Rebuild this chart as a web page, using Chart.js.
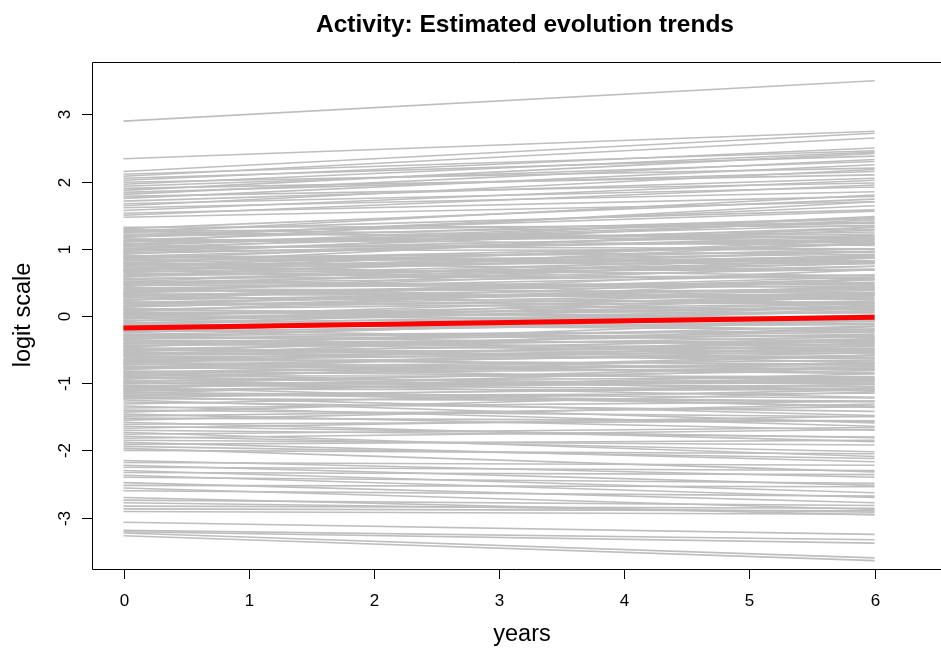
<!DOCTYPE html>
<html>
<head>
<meta charset="utf-8">
<script src="https://cdn.jsdelivr.net/npm/chart.js@4/dist/chart.umd.min.js"></script>
<style>
html,body{margin:0;padding:0;background:#fff;overflow:hidden;}
#wrap{width:941px;height:648px;position:relative;}
</style>
</head>
<body>
<div id="wrap"><canvas id="c" width="941" height="648"></canvas></div>
<script>
// ---- data ----
const title = "Activity: Estimated evolution trends";
const xLabel = "years";
const yLabel = "logit scale";
const xTicks = [0, 1, 2, 3, 4, 5, 6];
const yTicks = [-3, -2, -1, 0, 1, 2, 3];
const timeStart = 0;
const timeEnd = 6;

// estimated individual trends: value at year 0 and value at year 6
const startValues = [
  2.90, 2.34, 2.15, 2.11, 2.08, 2.05, 2.02, 1.99, 1.96, 1.93, 1.90, 1.87, 1.84, 1.81, 1.78, 1.75, 1.71, 1.67, 1.64, 1.61, 1.57, 1.53, 1.50, 1.47,
  1.32, 1.30, 1.29, 1.27, 1.25, 1.24, 1.22, 1.20, 1.18, 1.17, 1.15, 1.13, 1.11, 1.10, 1.08, 1.06, 1.04, 1.03, 1.01, 0.99,
  0.97, 0.96, 0.94, 0.92, 0.90, 0.89, 0.87, 0.85, 0.84, 0.82, 0.80, 0.78, 0.77, 0.75, 0.73, 0.71, 0.70, 0.68, 0.66, 0.65,
  0.63, 0.61, 0.59, 0.58, 0.56, 0.54, 0.52, 0.51, 0.49, 0.47, 0.46, 0.44, 0.42, 0.40, 0.39, 0.37, 0.35, 0.34, 0.32, 0.30,
  0.28, 0.27, 0.25, 0.23, 0.21, 0.20, 0.18, 0.16, 0.15, 0.13, 0.11, 0.09, 0.08, 0.06, 0.04, 0.03, 0.01, -0.01, -0.03, -0.04,
  -0.06, -0.08, -0.10, -0.11, -0.13, -0.15, -0.16, -0.18, -0.20, -0.22, -0.23, -0.25, -0.27, -0.28, -0.30, -0.32, -0.34, -0.35, -0.37, -0.39,
  -0.41, -0.42, -0.44, -0.46, -0.47, -0.49, -0.51, -0.53, -0.54, -0.56, -0.58, -0.59, -0.61, -0.63, -0.65, -0.66, -0.68, -0.70, -0.72, -0.73,
  -0.75, -0.77, -0.78, -0.80, -0.82, -0.84, -0.85, -0.87, -0.89, -0.90, -0.92, -0.94, -0.96, -0.97, -0.99, -1.01, -1.03, -1.04, -1.06, -1.08,
  -1.09, -1.11, -1.13, -1.15, -1.16, -1.18, -1.20, -1.22, -1.23, -1.25,
  -1.28, -1.31, -1.34, -1.37, -1.40, -1.43, -1.46, -1.49, -1.52, -1.55, -1.58, -1.61, -1.64, -1.67, -1.70, -1.73, -1.76, -1.79, -1.82, -1.85, -1.88, -1.91, -1.94, -1.97, -2.00,
  -2.15, -2.18, -2.22, -2.25, -2.30, -2.33, -2.37, -2.40, -2.48, -2.52, -2.56, -2.60, -2.70, -2.74, -2.78, -2.83, -2.87, -2.91,
  -3.07, -3.19, -3.21, -3.23, -3.27,
  // further lines inside the dense band
  1.12, 0.93, 0.74, 0.55, 0.36, 0.19, 0.02, -0.12, -0.29, -0.45, -0.60, -0.76, -0.91, -1.05, -1.19,
  1.05, 0.86, 0.67, 0.48, 0.29, 0.10, -0.07, -0.24, -0.40, -0.57, -0.71, -0.86, -1.00, -1.14, 0.31,
  1.26, 1.07, 0.88, 0.69, 0.50, 0.33, 0.14, -0.02, -0.19, -0.36, -0.52, -0.69, -0.83, -0.98, -1.12,
  0.98, 0.79, 0.60, 0.41, 0.24, 0.05, -0.14, -0.33, -0.50, -0.67
];
const endValues = [
  3.50, 2.75, 2.72, 2.46, 2.65, 2.38, 2.50, 2.20, 2.44, 2.30, 2.10, 2.42, 2.15, 2.33, 1.98, 2.25, 2.05, 1.92, 2.18, 1.85, 2.02, 1.78, 1.95, 1.70,
  1.34, 1.74, 1.15, 1.58, 1.39, 1.80, 1.18, 1.56, 1.38, 1.64, 1.05, 1.46, 1.18, 1.70, 1.25, 1.45, 1.00, 1.29, 1.10, 1.48,
  0.99, 1.32, 1.13, 1.43, 0.81, 1.18, 0.96, 1.28, 0.82, 1.07, 0.92, 1.32, 0.79, 1.07, 0.60, 1.09, 0.86, 1.13, 0.69, 0.90,
  0.56, 0.96, 0.78, 1.09, 0.60, 0.82, 0.42, 0.91, 0.61, 0.79, 0.44, 0.90, 0.49, 0.61, 0.24, 0.74, 0.50, 0.87, 0.31, 0.54,
  0.20, 0.55, 0.33, 0.69, 0.09, 0.42, 0.19, 0.55, 0.26, 0.44, -0.08, 0.34, 0.05, 0.54, 0.10, 0.19, -0.07, 0.33, -0.01, 0.18,
  -0.20, 0.31, -0.01, 0.16, -0.20, 0.30, -0.13, 0.01, -0.38, 0.08, -0.11, 0.15, -0.31, -0.06, -0.44, 0.01, -0.29, 0.12, -0.40, -0.24,
  -0.54, -0.15, -0.36, -0.06, -0.69, -0.31, -0.53, -0.19, -0.64, -0.34, -0.55, -0.16, -0.80, -0.48, -0.72, -0.37, -0.59, -0.34, -0.86, -0.55,
  -0.97, -0.51, -0.74, -0.40, -0.93, -0.71, -1.12, -0.58, -0.90, -0.69, -1.09, -0.58, -0.92, -0.81, -1.21, -0.75, -1.09, -0.94, -1.36, -0.77,
  -1.10, -0.94, -1.34, -0.86, -1.27, -1.07, -1.48, -1.02, -1.27, -1.59,
  -1.42, -1.10, -1.64, -1.27, -1.50, -1.13, -1.70, -1.35, -1.56, -1.31, -1.87, -1.56, -1.81, -1.49, -1.80, -2.09, -1.66, -2.02, -1.69, -1.92, -2.17, -1.85, -2.12, -2.32, -2.05,
  -2.40, -2.22, -2.52, -2.30, -2.63, -2.36, -2.70, -2.49, -2.78, -2.54, -2.88, -2.68, -2.96, -2.82, -2.92, -2.86, -2.90, -2.95,
  -3.25, -3.33, -3.38, -3.60, -3.64,
  1.22, 1.15, 0.88, 0.74, 0.45, 0.38, 0.12, 0.06, -0.22, -0.27, -0.62, -0.66, -1.02, -0.98, -1.15,
  1.40, 0.95, 0.96, 0.47, 0.58, 0.22, 0.14, -0.08, -0.48, -0.45, -0.84, -0.78, -1.00, -1.22, 0.40,
  1.10, 1.35, 0.80, 1.00, 0.70, 0.28, 0.35, 0.05, -0.05, -0.50, -0.42, -0.80, -0.70, -1.05, -0.96,
  1.20, 0.68, 0.86, 0.35, 0.40, -0.02, -0.05, -0.22, -0.62, -0.50
];
// population (average) trend
const meanStart = -0.18;
const meanEnd = -0.02;

// ---- chart ----
const FONT = "'Liberation Sans', Arial, Helvetica, sans-serif";
const datasets = [{
  data: [{x: timeStart, y: meanStart}, {x: timeEnd, y: meanEnd}],
  borderColor: '#FF0000',
  borderWidth: 5,
  pointRadius: 0,
  showLine: true,
  fill: false,
  tension: 0
}];
startValues.forEach((s, i) => datasets.push({
  data: [{x: timeStart, y: s}, {x: timeEnd, y: endValues[i]}],
  borderColor: '#BEBEBE',
  borderWidth: 1.6,
  pointRadius: 0,
  showLine: true,
  fill: false,
  tension: 0
}));

const rAxes = {
  id: 'rAxes',
  afterDraw(chart) {
    const ctx = chart.ctx;
    const a = chart.chartArea;
    const xs = chart.scales.x, ys = chart.scales.y;
    ctx.save();
    ctx.strokeStyle = '#000';
    ctx.lineWidth = 1;
    // plot frame (right side lies outside the picture)
    ctx.beginPath();
    ctx.moveTo(941, a.top + 0.5); ctx.lineTo(a.left + 0.5, a.top + 0.5);
    ctx.lineTo(a.left + 0.5, a.bottom + 0.5); ctx.lineTo(941, a.bottom + 0.5);
    ctx.stroke();
    // x ticks
    ctx.fillStyle = '#000';
    ctx.font = '17px ' + FONT;
    ctx.textAlign = 'center';
    ctx.textBaseline = 'alphabetic';
    xTicks.forEach(t => {
      const px = Math.round(xs.getPixelForValue(t)) + 0.5;
      ctx.beginPath(); ctx.moveTo(px, a.bottom); ctx.lineTo(px, a.bottom + 10); ctx.stroke();
      ctx.fillText(String(t), px, 606);
    });
    // y ticks
    yTicks.forEach(t => {
      const py = Math.round(ys.getPixelForValue(t)) + 0.5;
      ctx.beginPath(); ctx.moveTo(a.left, py); ctx.lineTo(a.left - 10, py); ctx.stroke();
      ctx.save();
      ctx.translate(70, py);
      ctx.rotate(-Math.PI / 2);
      ctx.fillText(String(t), 0, 0);
      ctx.restore();
    });
    // titles
    ctx.font = 'bold 24.5px ' + FONT;
    ctx.fillText(title, 525, 32);
    ctx.font = '23.5px ' + FONT;
    ctx.fillText(xLabel, 522, 641);
    ctx.save();
    ctx.translate(30, 315);
    ctx.rotate(-Math.PI / 2);
    ctx.fillText(yLabel, 0, 0);
    ctx.restore();
    ctx.restore();
  }
};

new Chart(document.getElementById('c'), {
  type: 'scatter',
  data: { datasets },
  options: {
    responsive: false,
    animation: false,
    layout: { padding: { left: 92, top: 62, right: 0, bottom: 79 } },
    plugins: { legend: { display: false }, tooltip: { enabled: false }, title: { display: false } },
    scales: {
      x: { type: 'linear', display: false, min: -0.2517, max: 6.531 },
      y: { type: 'linear', display: false, min: -3.765, max: 3.78 }
    }
  },
  plugins: [rAxes]
});
</script>
</body>
</html>
